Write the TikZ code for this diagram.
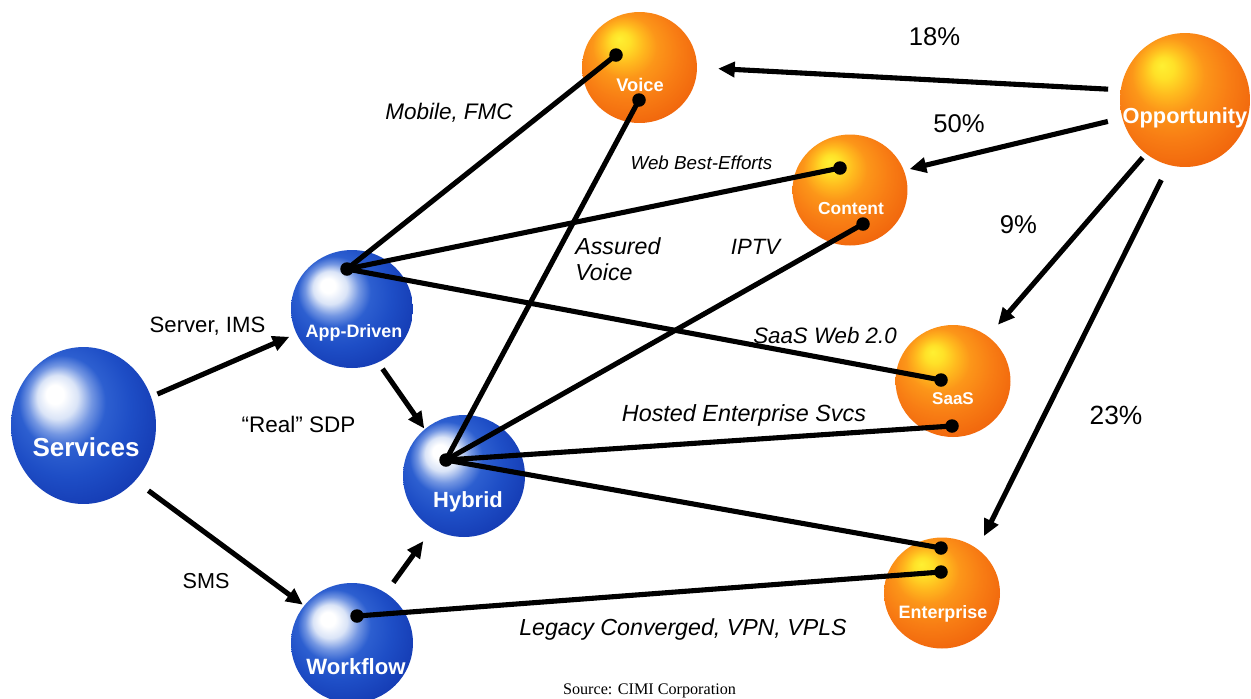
\documentclass[tikz,border=0pt]{standalone}
\usepackage{fontspec}
\setmainfont{Liberation Sans}
\newfontfamily\srcfont{Liberation Serif}
\usetikzlibrary{arrows.meta,shapes.geometric}
\definecolor{bA}{RGB}{218,228,247}
\definecolor{bB}{RGB}{115,150,226}
\definecolor{bC}{RGB}{45,95,208}
\definecolor{bD}{RGB}{30,78,198}
\definecolor{bE}{RGB}{22,62,182}
\definecolor{bF}{RGB}{14,44,158}
\definecolor{bG}{RGB}{10,35,140}
\definecolor{oA}{RGB}{255,240,50}
\definecolor{oB}{RGB}{255,225,40}
\definecolor{oC}{RGB}{255,185,30}
\definecolor{oD}{RGB}{252,150,25}
\definecolor{oE}{RGB}{248,125,20}
\definecolor{oF}{RGB}{240,100,12}
\definecolor{oG}{RGB}{232,88,10}
\pgfdeclareradialshading{blueball}{\pgfpoint{-10.5bp}{10.5bp}}{color(0bp)=(white); color(3bp)=(white); color(7bp)=(bA); color(11bp)=(bB); color(15bp)=(bC); color(22bp)=(bD); color(30bp)=(bE); color(38bp)=(bF); color(50bp)=(bG)}
\pgfdeclareradialshading{orangeball}{\pgfpoint{-9bp}{13bp}}{color(0bp)=(oA); color(4bp)=(oB); color(9bp)=(oC); color(14bp)=(oD); color(22bp)=(oE); color(32bp)=(oF); color(50bp)=(oG)}
\begin{document}
\begin{tikzpicture}[x=0.02cm,y=-0.02cm,
  bsph/.style={ellipse, shade, shading=blueball, inner sep=0pt, outer sep=0pt},
  osph/.style={ellipse, shade, shading=orangeball, inner sep=0pt, outer sep=0pt},
  blbl/.style={text=white, inner sep=0pt, anchor=base, font=\bfseries\fontsize{#1pt}{#1pt}\selectfont},
  ilbl/.style={inner sep=0pt, anchor=base, font=\itshape\fontsize{#1pt}{#1pt}\selectfont},
  rlbl/.style={inner sep=0pt, anchor=base, font=\fontsize{#1pt}{#1pt}\selectfont},
  pdot/.style={circle, fill=black, inner sep=0pt, minimum size=0.27cm},
  conn/.style={line width=2.9pt},
  arr/.style={line width=2.9pt, -{Triangle[length=9.5pt,width=8.5pt]}}]
\fill[white] (0,0) rectangle (1251,698);
\useasboundingbox (0,0) rectangle (1251,698);
% spheres
\node[bsph, minimum width=2.9cm, minimum height=3.14cm] (services) at (83.5,425.5) {};
\node[bsph, minimum width=2.44cm, minimum height=2.36cm] (app) at (352,309) {};
\node[bsph, minimum width=2.44cm, minimum height=2.44cm] (hybrid) at (464,476) {};
\node[bsph, minimum width=2.44cm, minimum height=2.4cm] (workflow) at (352,643) {};
\node[osph, minimum width=2.3cm, minimum height=2.22cm] (voice) at (639.5,67.5) {};
\node[osph, minimum width=2.3cm, minimum height=2.22cm] (content) at (850,190) {};
\node[osph, minimum width=2.3cm, minimum height=2.24cm] (saas) at (953,381) {};
\node[osph, minimum width=2.32cm, minimum height=2.22cm] (enterprise) at (942,593) {};
\node[osph, minimum width=2.6cm, minimum height=2.68cm] (opportunity) at (1185,100) {};
% sphere labels
\node[blbl=14.8] (servicesT) at (86,456) {Services};
\node[blbl=10.2] (appT) at (354,337.5) {App-Driven};
\node[blbl=12.5] (hybridT) at (468,507) {Hybrid};
\node[blbl=12.6] (workflowT) at (356,674) {Workflow};
\node[blbl=10.4] (voiceT) at (640,91.6) {Voice};
\node[blbl=9.9] (contentT) at (851,214) {Content};
\node[blbl=9.7] (saasT) at (953,404) {SaaS};
\node[blbl=10.2] (enterpriseT) at (943,618.5) {Enterprise};
\node[blbl=12.4] (opportunityT) at (1185,123) {Opportunity};
% dots
\node[pdot] (ad) at (347,269) {};
\node[pdot] (hd) at (446,460) {};
\node[pdot] (wd) at (357,616) {};
\node[pdot] (vd1) at (616,55) {};
\node[pdot] (vd2) at (639,100) {};
\node[pdot] (cd1) at (840,168) {};
\node[pdot] (cd2) at (863,224) {};
\node[pdot] (sd1) at (941,380) {};
\node[pdot] (sd2) at (952,426) {};
\node[pdot] (ed1) at (941,548) {};
\node[pdot] (ed2) at (941,572) {};
% connectors between dots
\draw[conn] (ad.center) -- (vd1.center);
\draw[conn] (ad.center) -- (cd1.center);
\draw[conn] (ad.center) -- (sd1.center);
\draw[conn] (hd.center) -- (vd2.center);
\draw[conn] (hd.center) -- (cd2.center);
\draw[conn] (hd.center) -- (sd2.center);
\draw[conn] (hd.center) -- (ed1.center);
\draw[conn] (wd.center) -- (ed2.center);
% arrows
\draw[arr, shorten <=4pt, shorten >=4.5pt] (services.23.9) -- (app.204.3);
\draw[arr, shorten <=9.5pt, shorten >=1pt] (services.-47.6) -- (workflow.142);
\draw[arr, shorten <=4.5pt, shorten >=0.5pt] (app.-64.6) -- (hybrid.130.3);
\draw[arr, shorten <=7.4pt, shorten >=9pt] (workflow.56) -- (hybrid.-121.2);
\draw[arr, shorten <=7.2pt, shorten >=12pt] (opportunity.171.9) -- (voice.0);
\draw[arr, shorten <=8.5pt, shorten >=3.4pt] (opportunity.196.6) -- (content.20.4);
\draw[arr, shorten <=3pt, shorten >=8.8pt] (opportunity.234.1) -- (saas.52.3);
\draw[arr, shorten <=9.6pt, shorten >=8.3pt] (opportunity.-104.5) -- (enterprise.51.8);
% labels
\node[rlbl=12.6] (l1) at (207.5,332) {Server, IMS};
\node[rlbl=12.3] (l2) at (206,588.6) {SMS};
\node[rlbl=12.8] (l3) at (298.5,432) {“Real” SDP};
\node[ilbl=12.8] (l4) at (449,119) {Mobile, FMC};
\node[ilbl=10.7] (l5) at (701.5,169) {Web Best-Efforts};
\node[ilbl=13.2, anchor=base west] (l6) at (575,254) {Assured};
\node[ilbl=13.2, anchor=base west] (l7) at (575,280) {Voice};
\node[ilbl=12.6] (l8) at (755.5,254) {IPTV};
\node[ilbl=12.7] (l9) at (825,343) {SaaS Web 2.0};
\node[ilbl=13.3] (l10) at (744,421.5) {Hosted Enterprise Svcs};
\node[ilbl=13.2] (l11) at (683,635) {Legacy Converged, VPN, VPLS};
\node[rlbl=14.6] (p1) at (934.5,45.5) {18\%};
\node[rlbl=14.6] (p2) at (959,132.4) {50\%};
\node[rlbl=14.6] (p3) at (1018.5,233.4) {9\%};
\node[rlbl=15] (p4) at (1116,424.7) {23\%};
\node[inner sep=0pt, anchor=base, font=\srcfont\fontsize{9.2pt}{9.2pt}\selectfont] (src) at (649.5,694) {Source: CIMI Corporation};
\end{tikzpicture}
\end{document}
